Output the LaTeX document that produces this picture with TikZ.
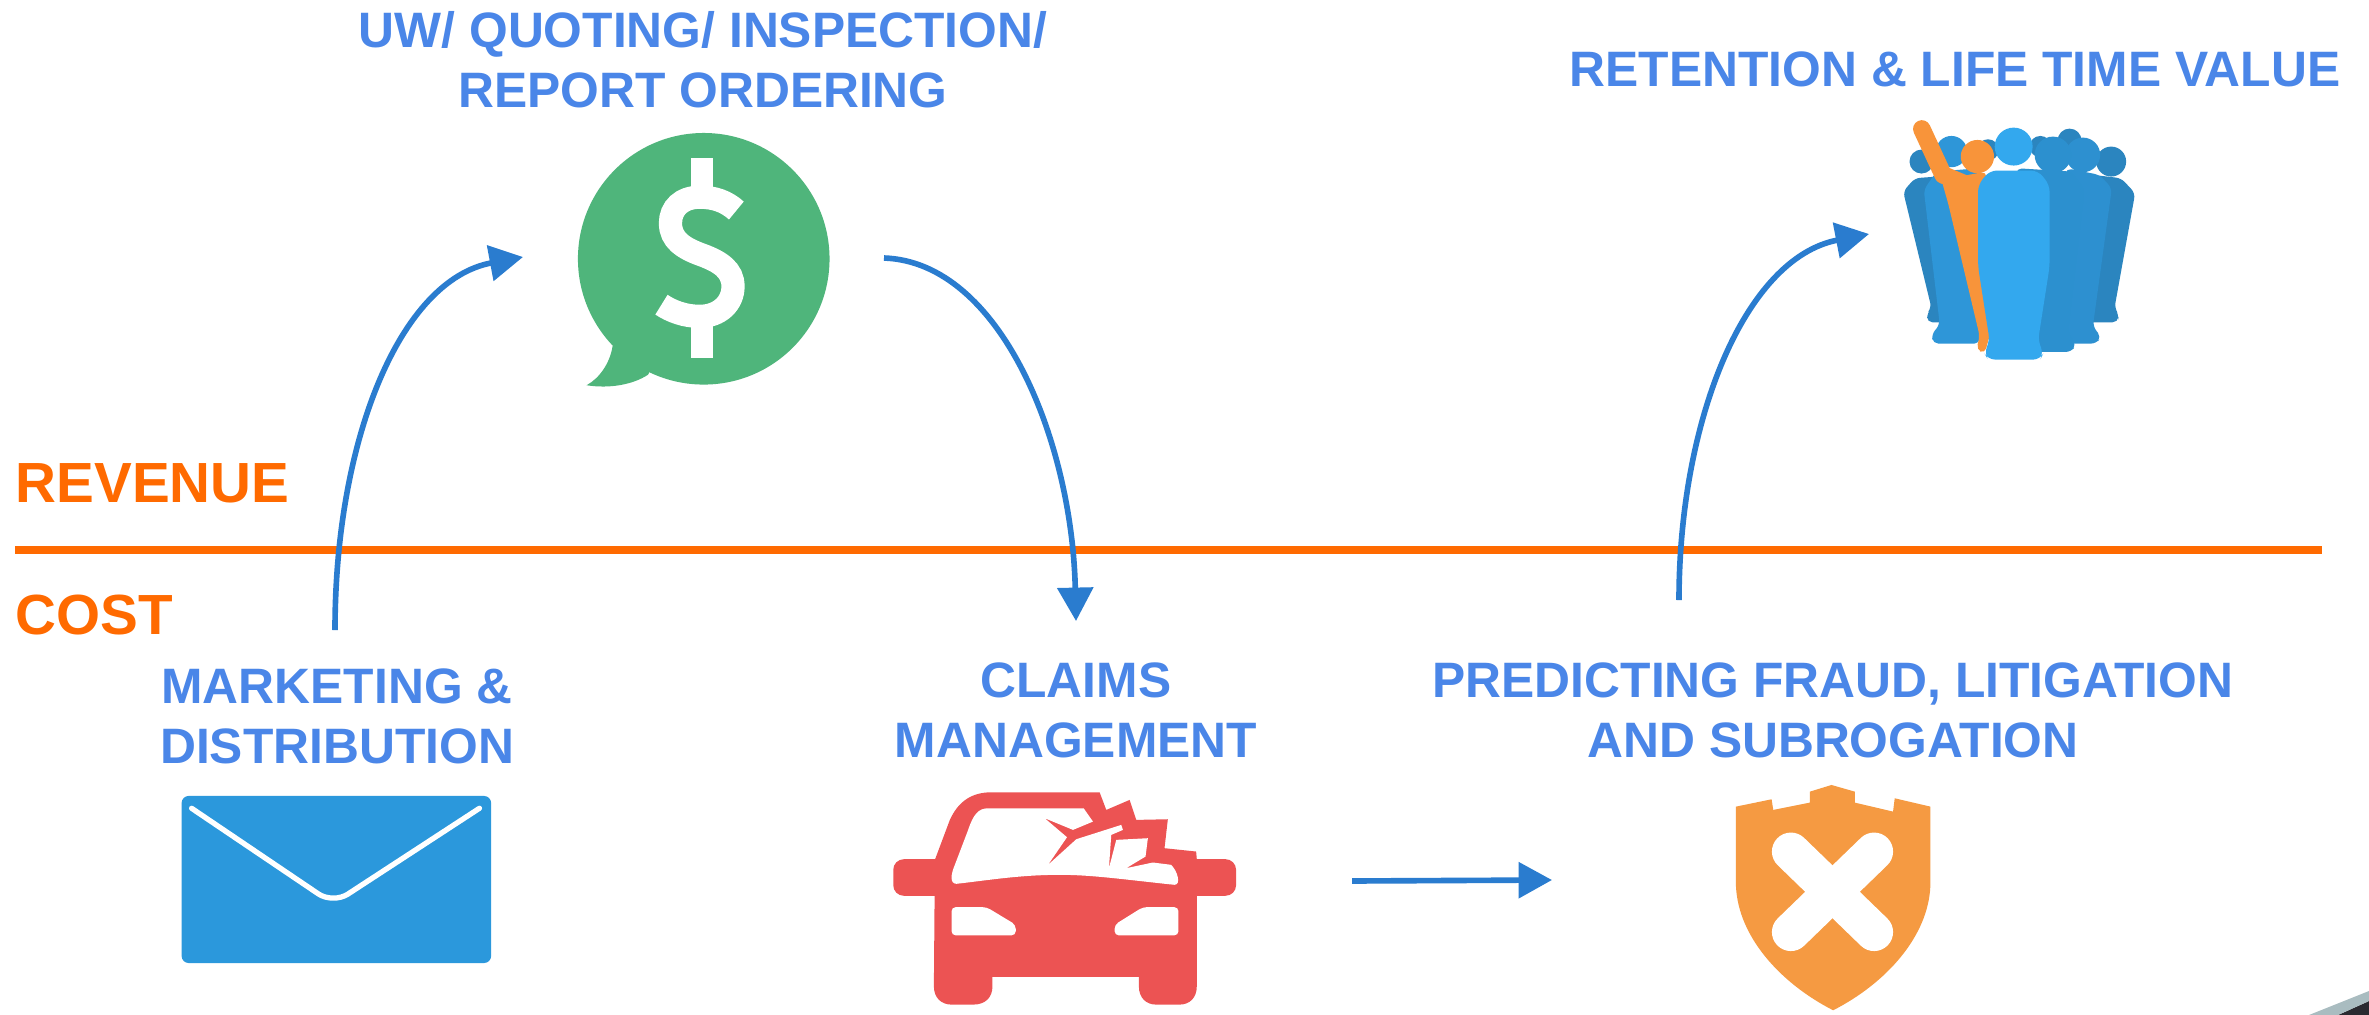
\documentclass[tikz,border=0pt]{standalone}
\usepackage{fontspec}
\setmainfont{Liberation Sans}
\usetikzlibrary{arrows.meta}
\definecolor{lblue}{HTML}{4A86E8}
\definecolor{arrowblue}{HTML}{2A7CCF}
\definecolor{ruleorange}{HTML}{FF6A00}
\definecolor{moneygreen}{HTML}{4FB57B}
\definecolor{mailblue}{HTML}{2B98DC}
\definecolor{carred}{HTML}{EC5353}
\definecolor{shieldorange}{HTML}{F59A42}
\definecolor{pdark}{HTML}{2B85BF}
\definecolor{pmid}{HTML}{2E96D8}
\definecolor{pmidb}{HTML}{2D90D0}
\definecolor{pfront}{HTML}{33A8EE}
\definecolor{porange}{HTML}{F8943A}
\definecolor{cornerlight}{HTML}{A9BCC0}
\definecolor{cornerdark}{HTML}{2A2A30}
\tikzset{
  caption/.style={font=\fontsize{14.15}{14.15}\selectfont\bfseries, text=lblue, inner sep=0pt, align=center},
  side/.style={font=\fontsize{16.1}{16.1}\selectfont\bfseries, text=ruleorange, inner sep=0pt, anchor=west},
  flow/.style={draw=arrowblue, line width=1.6pt, -{Triangle[length=9.5pt,width=10pt]}},
  zoomed/.style={x=0.0033333cm,y=-0.0033333cm}
}
\begin{document}
\begin{tikzpicture}[x=0.01cm,y=-0.01cm]
\useasboundingbox (0,0) rectangle (2369,1015);
\fill[white] (0,0) rectangle (2369,1015);

% corner remnant
\fill[cornerdark] (2338,1015) -- (2369,1001) -- (2369,1015) -- cycle;
\fill[cornerlight] (2309,1015) -- (2369,991) -- (2369,1001) -- (2338,1015) -- cycle;

% divider
\coordinate (ruleL) at (15,550);
\coordinate (ruleR) at (2322,550);
\draw[ruleorange, line width=2pt] (ruleL) -- (ruleR);
\node[side] (revenue) at (15,483) {REVENUE};
\node[side] (cost) at (15,615) {COST};

% captions
\node[caption] (uw) at (703,60) {UW/ QUOTING/ INSPECTION/\\[2.97pt]REPORT ORDERING};
\node[caption] (ret) at (1955,69) {RETENTION \& LIFE TIME VALUE};
\node[caption] (mkt) at (337,716) {MARKETING \&\\[2.97pt]DISTRIBUTION};
\node[caption] (claims) at (1076,710) {CLAIMS\\[2.97pt]MANAGEMENT};
\node[caption] (fraud) at (1833,710) {PREDICTING FRAUD, LITIGATION\\[2.97pt]AND SUBROGATION};

% money icon
\begin{scope}[shift={(540,120)},zoomed]
  \fill[moneygreen] (492,417) circle[radius=378];
  \fill[moneygreen] (218,680) .. controls (210,730) and (180,775) .. (140,797)
     .. controls (210,808) and (280,795) .. (325,765) -- (400,600) -- cycle;
  \draw[white, line width=6.6pt] (590,272) .. controls (560,245) and (525,232) .. (480,232)
     .. controls (425,232) and (392,265) .. (392,310)
     .. controls (392,360) and (430,385) .. (485,405)
     .. controls (540,425) and (580,450) .. (580,500)
     .. controls (580,550) and (540,590) .. (480,590)
     .. controls (435,590) and (395,575) .. (365,555);
  \fill[white] (455,115) rectangle (520,215);
  \fill[white] (455,610) rectangle (520,715);
\end{scope}
\coordinate (moneyIn) at (523,257);
\coordinate (moneyOut) at (884,258);

% mail icon
\begin{scope}[shift={(150,770)},zoomed]
  \fill[mailblue, rounded corners=2pt] (95,78) rectangle (1025,580);
  \draw[white, line width=1.5pt, line cap=round, rounded corners=5pt] (125,115) -- (550,402) -- (990,115);
\end{scope}
\coordinate (mailOut) at (335,630);

% car icon
\begin{scope}[shift={(860,760)},zoomed]
  \fill[carred, rounded corners=3pt] (100,298) rectangle (300,408);
  \fill[carred, rounded corners=3pt] (950,298) rectangle (1130,408);
  \fill[carred] (225,300) -- (270,180) .. controls (295,125) and (335,97) .. (395,97) -- (720,97)
     -- (740,150) -- (810,120) -- (830,180) -- (925,178) -- (915,265) -- (1010,275)
     -- (1012,298) -- (1012,680) .. controls (1012,715) and (990,735) .. (960,735)
     -- (890,735) .. controls (860,735) and (838,715) .. (838,680) -- (838,652) -- (398,652) -- (398,680)
     .. controls (398,715) and (375,735) .. (340,735) -- (275,735)
     .. controls (245,735) and (222,715) .. (222,680) -- cycle;
  \fill[white] (290,372) .. controls (270,372) and (272,345) .. (285,315)
     -- (325,210) .. controls (340,165) and (355,145) .. (385,145)
     -- (672,145) -- (700,185) -- (640,210) -- (555,175) -- (622,232) -- (565,315) -- (650,238)
     -- (785,195) -- (790,210) -- (755,225) -- (748,325) -- (770,240) -- (865,235) -- (858,290)
     -- (800,325) -- (880,308) -- (935,315) .. controls (955,335) and (965,375) .. (945,375)
     .. controls (800,360) and (700,345) .. (600,345)
     .. controls (480,345) and (380,362) .. (290,372) -- cycle;
  \fill[white, rounded corners=1.2pt] (275,442) -- (380,442) -- (468,495) -- (468,527) -- (275,527) -- cycle;
  \fill[white, rounded corners=1.2pt] (957,442) -- (850,442) -- (765,495) -- (765,527) -- (957,527) -- cycle;
\end{scope}
\coordinate (carIn) at (1076,621);
\coordinate (carOut) at (1352,881);

% shield icon
\begin{scope}[shift={(1720,770)},zoomed]
  \fill[shieldorange] (48,110) -- (155,88) -- (160,120) -- (270,98) -- (270,65) -- (335,45)
     -- (405,65) -- (405,98) -- (520,125) -- (525,85) -- (632,110) -- (632,350)
     .. controls (625,500) and (500,640) .. (340,722)
     .. controls (180,640) and (55,500) .. (48,350) -- cycle;
  \draw[white, line width=10.8pt, line cap=round] (213,245) -- (463,487);
  \draw[white, line width=10.8pt, line cap=round] (463,245) -- (213,487);
\end{scope}
\coordinate (shieldIn) at (1552,880);
\coordinate (shieldOut) at (1679,600);

% people icon
\begin{scope}[shift={(1800,100)},zoomed]
  \fill[pdark] (365,185) circle[radius=36] (935,185) circle[radius=45]
     (810,122) circle[radius=36] (722,140) circle[radius=32] (565,150) circle[radius=32];
  \fill[pdark, rounded corners=1.5pt] (310,275) -- (345,235) -- (480,225) -- (480,668) -- (382,668) -- (382,640) -- (395,625) -- cycle;
  \fill[pdark, rounded corners=1.5pt] (880,225) -- (965,235) -- (1007,280) -- (945,625) -- (958,645) -- (955,668) -- (830,668) -- cycle;
  \fill[pmid] (455,155) circle[radius=47];
  \fill[pmid, rounded corners=1.5pt] (372,270) -- (410,215) -- (540,205) -- (540,732) -- (400,732) -- (395,705) -- (420,675) -- cycle;
  \fill[pmidb] (850,165) circle[radius=52];
  \fill[pmidb, rounded corners=1.5pt] (800,205) -- (900,225) -- (937,265) -- (880,680) -- (905,712) -- (890,732) -- (720,732) -- cycle;
  \fill[pmid!96!black] (760,165) circle[radius=55];
  \fill[pmid!96!black, rounded corners=1.5pt] (650,205) -- (815,215) -- (855,270) -- (805,700) -- (830,735) -- (815,757) -- (680,757) -- cycle;
  \fill[porange] (533,170) circle[radius=50];
  \draw[porange, line width=5pt, line cap=round, line join=round] (366,87) -- (430,225) -- (490,250);
  \fill[porange, rounded corners=1.5pt] (425,240) -- (560,215) -- (560,500) -- (572,700) -- (555,762) -- (530,750) -- (540,710) -- (445,310) -- cycle;
  \fill[pfront] (642,140) circle[radius=57];
  \fill[pfront, rounded corners=2pt] (570,212) -- (715,212) -- (750,255) -- (750,500) -- (715,725) -- (732,760) -- (722,780) -- (565,780) -- (553,760) -- (570,725) -- (535,500) -- (535,255) -- cycle;
\end{scope}
\coordinate (peopleIn) at (1869,234);

% flow
\draw[flow] (mailOut) .. controls (335,440) and (400,280) .. (moneyIn);
\draw[flow] (moneyOut) .. controls (1000,262) and (1072,440) .. (carIn);
\draw[flow] (carOut) -- (shieldIn);
\draw[flow] (shieldOut) .. controls (1679,420) and (1745,258) .. (peopleIn);
\end{tikzpicture}
\end{document}
